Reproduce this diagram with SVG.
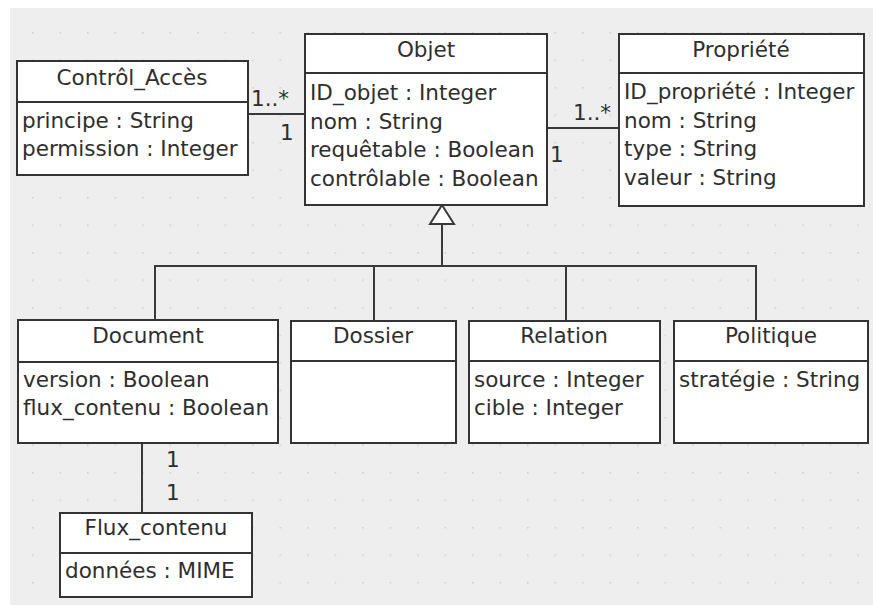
<svg xmlns="http://www.w3.org/2000/svg" width="873" height="605" viewBox="0 0 873 605">
<defs>
<pattern id="grid" x="4.5" y="4.5" width="27.5" height="27.5" patternUnits="userSpaceOnUse">
<circle cx="0.8" cy="0.8" r="0.9" fill="#cfcfcf"/>
</pattern>
<style>
.box{fill:#fff;stroke:#333;stroke-width:2}
.div{stroke:#333;stroke-width:2}
.con{fill:none;stroke:#3a3a3a;stroke-width:2}
text{font-family:"DejaVu Sans","Liberation Sans",sans-serif;font-size:21.5px;fill:#2e2e2e}
.h{text-anchor:middle}
</style>
</defs>
<rect x="0" y="0" width="873" height="605" fill="#fff"/>
<rect x="10" y="8" width="863" height="597" fill="#eeeeee"/>
<rect x="10" y="8" width="863" height="597" fill="url(#grid)"/>

<g id="connectors">
<line class="con" x1="248" y1="114" x2="305" y2="114"/>
<line class="con" x1="547" y1="128" x2="619" y2="128"/>
<polyline class="con" points="442,224 442,266"/>
<polyline class="con" points="155,320 155,266 756,266 756,321"/>
<line class="con" x1="374" y1="266" x2="374" y2="321"/>
<line class="con" x1="566" y1="266" x2="566" y2="321"/>
<line class="con" x1="142" y1="443" x2="142" y2="513"/>
<polygon points="442,205 430,224 454,224" fill="#fff" stroke="#3a3a3a" stroke-width="2"/>
<text x="251" y="106">1..*</text>
<text x="280" y="140">1</text>
<text x="573" y="120">1..*</text>
<text x="550" y="162">1</text>
<text x="166" y="467">1</text>
<text x="166" y="500">1</text>
</g>

<g id="controle_acces">
<rect class="box" x="17" y="61" width="231" height="114"/>
<line class="div" x1="17" y1="102" x2="248" y2="102"/>
<text class="h" x="132" y="85">Contrôl_Accès</text>
<text x="22" y="128">principe : String</text>
<text x="22" y="156">permission : Integer</text>
</g>

<g id="objet">
<rect class="box" x="305" y="34" width="242" height="171"/>
<line class="div" x1="305" y1="73" x2="547" y2="73"/>
<text class="h" x="426" y="57">Objet</text>
<text x="310" y="100">ID_objet : Integer</text>
<text x="310" y="129">nom : String</text>
<text x="310" y="157">requêtable : Boolean</text>
<text x="310" y="186">contrôlable : Boolean</text>
</g>

<g id="propriete">
<rect class="box" x="619" y="34" width="245" height="172"/>
<line class="div" x1="619" y1="73" x2="864" y2="73"/>
<text class="h" x="741" y="57">Propriété</text>
<text x="624" y="99">ID_propriété : Integer</text>
<text x="624" y="128">nom : String</text>
<text x="624" y="156">type : String</text>
<text x="624" y="185">valeur : String</text>
</g>

<g id="document">
<rect class="box" x="18" y="320" width="260" height="123"/>
<line class="div" x1="18" y1="362" x2="278" y2="362"/>
<text class="h" x="148" y="343">Document</text>
<text x="23" y="387">version : Boolean</text>
<text x="23" y="415">flux_contenu : Boolean</text>
</g>

<g id="dossier">
<rect class="box" x="291" y="321" width="165" height="122"/>
<line class="div" x1="291" y1="361" x2="456" y2="361"/>
<text class="h" x="373" y="343">Dossier</text>
</g>

<g id="relation">
<rect class="box" x="469" y="321" width="191" height="122"/>
<line class="div" x1="469" y1="361" x2="660" y2="361"/>
<text class="h" x="564" y="343">Relation</text>
<text x="474" y="387">source : Integer</text>
<text x="474" y="415">cible : Integer</text>
</g>

<g id="politique">
<rect class="box" x="674" y="321" width="194" height="122"/>
<line class="div" x1="674" y1="361" x2="868" y2="361"/>
<text class="h" x="771" y="343">Politique</text>
<text x="679" y="387">stratégie : String</text>
</g>

<g id="flux_contenu">
<rect class="box" x="60" y="513" width="192" height="84"/>
<line class="div" x1="60" y1="553" x2="252" y2="553"/>
<text class="h" x="156" y="535">Flux_contenu</text>
<text x="65" y="578">données : MIME</text>
</g>
</svg>
